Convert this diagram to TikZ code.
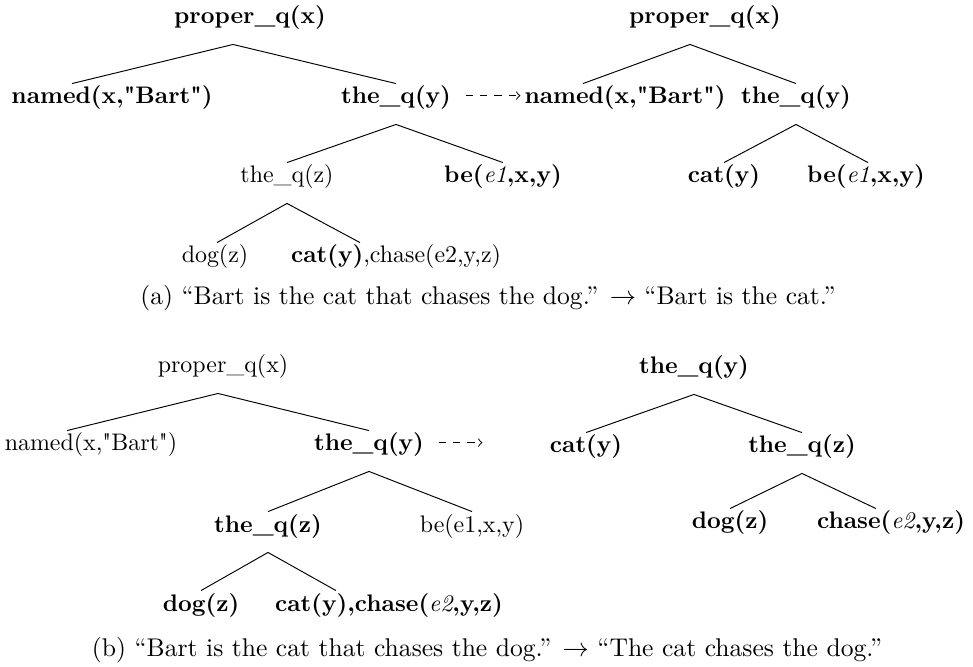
\documentclass[tikz,border=0pt]{standalone}
\usepackage{fontspec}
\setmainfont{Latin Modern Roman}[Ligatures=TeXOff]
\usetikzlibrary{calc}
\begin{document}
\begin{tikzpicture}[x=0.418pt,y=-0.418pt,
  lbl/.style={inner sep=0pt, text height=7.5pt, text depth=2.5pt},
  blbl/.style={lbl, font=\bfseries},
  captext/.style={inner sep=0pt, font=\fontsize{10.7}{13}\selectfont},
  treeedge/.style={line width=0.4pt},
  move/.style={dashed, ->, line width=0.4pt}]
\useasboundingbox (0,0) rectangle (973,666);
\newcommand{\tedge}[4]{\draw[treeedge] ($(#1.south)+(#2,14)$) -- ($(#3.north)+(#4,-2)$);}
% ---- (a) left tree
\node[blbl] (a1) at (250,18) {proper\_q(x)};
\node[blbl] (a2) at (112,98) {named(x,"Bart")};
\node[blbl] (a3) at (396,98) {the\_q(y)};
\node[lbl]  (a4) at (287,177) {the\_q(z)};
\node[blbl] (a5) at (503,177) {be(\textmd{\itshape e1},x,y)};
\node[lbl]  (a6) at (215,257) {dog(z)};
\node[lbl]  (a7) at (396,257) {\textbf{cat(y)},chase(e2,y,z)};
% ---- (a) right tree
\node[blbl] (ar1) at (705,18) {proper\_q(x)};
\node[blbl] (ar2) at (625,98) {named(x,"Bart")};
\node[blbl] (ar3) at (796,98) {the\_q(y)};
\node[blbl] (ar4) at (724,177) {cat(y)};
\node[blbl] (ar5) at (866,177) {be(\textmd{\itshape e1},x,y)};
\node[captext] (capa) at (488,298) {(a) “Bart is the cat that chases the dog.” $\rightarrow$ “Bart is the cat.”};
% ---- (b) left tree
\node[lbl]  (b1) at (223,367) {proper\_q(x)};
\node[lbl]  (b2) at (91,445) {named(x,"Bart")};
\node[blbl] (b3) at (369,445) {the\_q(y)};
\node[blbl] (b4) at (268,526) {the\_q(z)};
\node[lbl]  (b5) at (472,526) {be(e1,x,y)};
\node[blbl] (b6) at (201,605) {dog(z)};
\node[blbl] (b7) at (389,605) {cat(y),chase(\textmd{\itshape e2},y,z)};
% ---- (b) right tree
\node[blbl] (br1) at (694,368) {the\_q(y)};
\node[blbl] (br2) at (586,447) {cat(y)};
\node[blbl] (br3) at (802,447) {the\_q(z)};
\node[blbl] (br4) at (730,523) {dog(z)};
\node[blbl] (br5) at (891,523) {chase(\textmd{\itshape e2},y,z)};
\node[captext] (capb) at (487,650) {(b) “Bart is the cat that chases the dog.” $\rightarrow$ “The cat chases the dog.”};
% ---- edges
\tedge{a1}{-17}{a2}{-40}
\tedge{a1}{-17}{a3}{0}
\tedge{a3}{0}{a4}{0}
\tedge{a3}{0}{a5}{0}
\tedge{a4}{0}{a6}{2}
\tedge{a4}{0}{a7}{-36}
\tedge{ar1}{-15}{ar2}{-42}
\tedge{ar1}{-15}{ar3}{0}
\tedge{ar3}{0}{ar4}{0}
\tedge{ar3}{0}{ar5}{2}
\tedge{b1}{-5}{b2}{-24}
\tedge{b1}{-5}{b3}{0}
\tedge{b3}{0}{b4}{0}
\tedge{b3}{0}{b5}{0}
\tedge{b4}{0}{b6}{0}
\tedge{b4}{0}{b7}{-53}
\tedge{br1}{0}{br2}{0}
\tedge{br1}{0}{br3}{0}
\tedge{br3}{0}{br4}{0}
\tedge{br3}{0}{br5}{-15}
% ---- moves
\draw[move, shorten <=6pt, shorten >=1.5pt] ([yshift=1pt]a3.east) -- ([yshift=1pt]a3.east -| ar2.west);
\draw[move, shorten <=6pt, shorten >=28pt] ([yshift=1pt]b3.east) -- ([yshift=1pt]b3.east -| br2.west);
\end{tikzpicture}
\end{document}
